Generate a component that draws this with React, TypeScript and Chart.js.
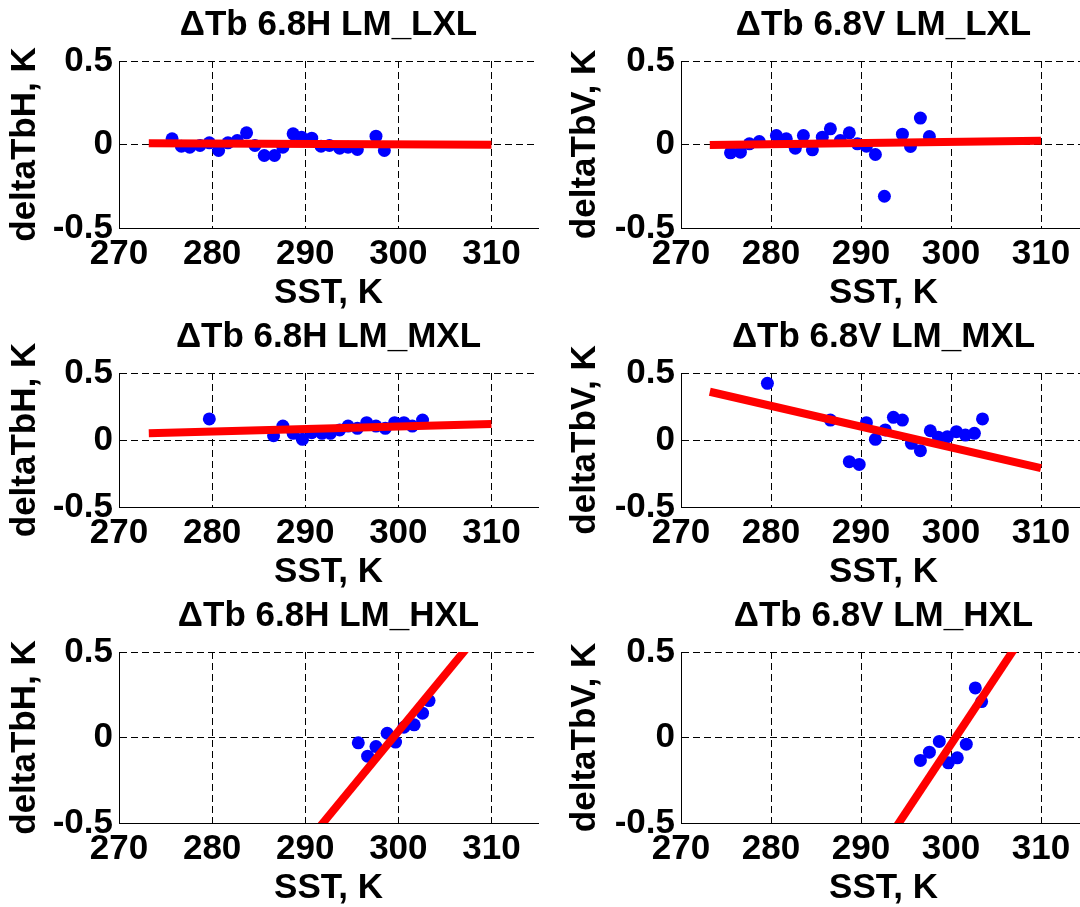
import React, { useEffect, useRef } from "react";
import { Chart, registerables } from "chart.js";

Chart.register(...registerables);

// ---------- axis definitions ----------
const X_MIN = 270;
const X_MAX = 315;
const Y_MIN = -0.5;
const Y_MAX = 0.5;
const X_TICKS = [270, 280, 290, 300, 310];
const X_TICK_LABELS = ["270", "280", "290", "300", "310"];
const Y_TICKS = [-0.5, 0, 0.5];
const Y_TICK_LABELS = ["-0.5", "0", "0.5"];
const X_LABEL = "SST, K";
const Y_LABEL_H = "deltaTbH, K";
const Y_LABEL_V = "deltaTbV, K";

// end points (SST) of the fitted lines
const FIT_SST = [273.2, 310];

// ---------- LM_LXL, 6.8H ----------
const LXL_H_SST = [275.7, 276.7, 277.6, 278.7, 279.7, 280.7, 281.7, 282.7, 283.7, 284.6, 285.6, 286.7, 287.6, 288.7, 289.6, 290.7, 291.7, 292.6, 293.7, 294.6, 295.6, 297.6, 298.5];
const LXL_H_DTB = [0.034, -0.01, -0.016, -0.006, 0.01, -0.036, 0.01, 0.024, 0.07, -0.006, -0.066, -0.066, -0.016, 0.064, 0.044, 0.038, -0.01, -0.006, -0.022, -0.016, -0.03, 0.05, -0.036];
const LXL_H_FIT = [0.008, -0.002];

// ---------- LM_LXL, 6.8V ----------
const LXL_V_SST = [275.5, 276.6, 277.6, 278.7, 280.6, 281.7, 282.7, 283.6, 284.6, 285.7, 286.6, 287.7, 288.7, 289.6, 290.6, 291.6, 292.6, 294.6, 295.5, 296.6, 297.6];
const LXL_V_DTB = [-0.05, -0.046, 0.004, 0.018, 0.054, 0.034, -0.022, 0.054, -0.032, 0.044, 0.094, 0.024, 0.07, 0.004, -0.01, -0.06, -0.31, 0.062, -0.012, 0.158, 0.048];
const LXL_V_FIT = [-0.003, 0.022];

// ---------- LM_MXL, 6.8H ----------
const MXL_H_SST = [279.7, 286.6, 287.6, 288.7, 289.7, 290.7, 291.8, 292.7, 293.7, 294.6, 295.6, 296.6, 297.6, 298.6, 299.6, 300.6, 301.5, 302.6];
const MXL_H_DTB = [0.157, 0.032, 0.104, 0.05, 0.005, 0.054, 0.05, 0.05, 0.075, 0.104, 0.087, 0.129, 0.104, 0.087, 0.129, 0.129, 0.104, 0.149];
const MXL_H_FIT = [0.05, 0.12];

// ---------- LM_MXL, 6.8V ----------
const MXL_V_SST = [279.6, 286.6, 288.7, 289.8, 290.6, 291.6, 292.7, 293.6, 294.6, 295.6, 296.6, 297.7, 298.6, 299.6, 300.6, 301.6, 302.6, 303.5];
const MXL_V_DTB = [0.423, 0.149, -0.162, -0.182, 0.129, 0.005, 0.075, 0.169, 0.149, -0.025, -0.08, 0.069, 0.02, 0.025, 0.062, 0.037, 0.05, 0.157];
const MXL_V_FIT = [0.36, -0.21];

// ---------- LM_HXL, 6.8H ----------
const HXL_H_SST = [295.7, 296.7, 297.6, 298.8, 299.7, 300.6, 301.7, 302.6, 303.3];
const HXL_H_DTB = [-0.031, -0.109, -0.053, 0.025, -0.027, 0.06, 0.074, 0.142, 0.216];
const HXL_H_FIT = [-1.738, 0.698];

// ---------- LM_HXL, 6.8V ----------
const HXL_V_SST = [296.6, 297.6, 298.7, 299.7, 300.7, 301.7, 302.7, 303.4];
const HXL_V_DTB = [-0.134, -0.086, -0.023, -0.148, -0.119, -0.039, 0.29, 0.21];
const HXL_V_FIT = [-2.168, 0.754];

const TITLES = [
  "\u0394Tb 6.8H LM_LXL",
  "\u0394Tb 6.8V LM_LXL",
  "\u0394Tb 6.8H LM_MXL",
  "\u0394Tb 6.8V LM_MXL",
  "\u0394Tb 6.8H LM_HXL",
  "\u0394Tb 6.8V LM_HXL",
];

type PanelData = { title: string; yLabel: string; sst: number[]; dtb: number[]; fit: number[] };

const PANELS: PanelData[] = [
  { title: TITLES[0], yLabel: Y_LABEL_H, sst: LXL_H_SST, dtb: LXL_H_DTB, fit: LXL_H_FIT },
  { title: TITLES[1], yLabel: Y_LABEL_V, sst: LXL_V_SST, dtb: LXL_V_DTB, fit: LXL_V_FIT },
  { title: TITLES[2], yLabel: Y_LABEL_H, sst: MXL_H_SST, dtb: MXL_H_DTB, fit: MXL_H_FIT },
  { title: TITLES[3], yLabel: Y_LABEL_V, sst: MXL_V_SST, dtb: MXL_V_DTB, fit: MXL_V_FIT },
  { title: TITLES[4], yLabel: Y_LABEL_H, sst: HXL_H_SST, dtb: HXL_H_DTB, fit: HXL_H_FIT },
  { title: TITLES[5], yLabel: Y_LABEL_V, sst: HXL_V_SST, dtb: HXL_V_DTB, fit: HXL_V_FIT },
];

// ---------- layout (pixels) ----------
const COLS = [
  { canvasLeft: 0, canvasW: 560, plotLeft: 119, plotRight: 538 },
  { canvasLeft: 560, canvasW: 540, plotLeft: 681, plotRight: 1086 },
];
const ROWS = [
  { plotTop: 61, plotBottom: 228 },
  { plotTop: 373, plotBottom: 507 },
  { plotTop: 652, plotBottom: 823 },
];
const FONT_FAMILY = '"Liberation Sans", Arial, Helvetica, sans-serif';
const FONT_SIZE = 35;
const LINE_H = FONT_SIZE * 1.2;
const TITLE_ABOVE = 61; // canvas top is this far above the plot top
const TITLE_GAP = 36; // title centre above plot top
const X_AREA = 90; // space under plot inside the canvas
const XLABEL_BELOW = 65; // x-axis title centre below plot bottom

type Geo = {
  left: number; top: number; w: number; h: number;
  padRight: number; yAxisW: number; xAxisH: number;
};

function geoFor(i: number): Geo {
  const c = COLS[i % 2];
  const r = ROWS[Math.floor(i / 2)];
  const top = r.plotTop - TITLE_ABOVE;
  const h = r.plotBottom - top + X_AREA;
  return {
    left: c.canvasLeft,
    top,
    w: c.canvasW,
    h,
    padRight: c.canvasLeft + c.canvasW - c.plotRight,
    yAxisW: c.plotLeft - c.canvasLeft,
    xAxisH: X_AREA,
  };
}

const boldFont = { family: FONT_FAMILY, size: FONT_SIZE, weight: "bold" as const, lineHeight: 1.2 };

function Panel({ panel, geo }: { panel: PanelData; geo: Geo }) {
  const ref = useRef<HTMLCanvasElement | null>(null);
  useEffect(() => {
    if (!ref.current) return;
    const chart = new Chart(ref.current, {
      type: "scatter",
      data: {
        datasets: [
          {
            type: "line",
            data: FIT_SST.map((x, k) => ({ x, y: panel.fit[k] })),
            borderColor: "#ff0000",
            backgroundColor: "#ff0000",
            borderWidth: 8,
            pointRadius: 0,
            fill: false,
            clip: 0,
            order: 0,
          } as any,
          {
            type: "scatter",
            data: panel.sst.map((x, k) => ({ x, y: panel.dtb[k] })),
            backgroundColor: "#0000ff",
            borderColor: "#0000ff",
            borderWidth: 0,
            pointRadius: 6.5,
            order: 1,
          } as any,
        ],
      },
      options: {
        responsive: false,
        animation: false,
        devicePixelRatio: 1,
        layout: { padding: { left: 0, top: 0, right: geo.padRight, bottom: 0 } },
        plugins: {
          legend: { display: false },
          tooltip: { enabled: false },
          title: {
            display: true,
            text: panel.title,
            fullSize: false,
            color: "#000",
            font: boldFont,
            padding: { top: TITLE_ABOVE - LINE_H - (TITLE_GAP - LINE_H / 2), bottom: TITLE_GAP - LINE_H / 2 },
          },
        },
        scales: {
          x: {
            type: "linear",
            position: "bottom",
            min: X_MIN,
            max: X_MAX,
            afterBuildTicks: (s: any) => {
              s.ticks = X_TICKS.map((v) => ({ value: v }));
            },
            afterFit: (s: any) => {
              s.height = geo.xAxisH;
            },
            ticks: {
              callback: (_v: any, k: number) => X_TICK_LABELS[k],
              color: "#000",
              font: boldFont,
              padding: 5,
              autoSkip: false,
              maxRotation: 0,
              minRotation: 0,
            },
            grid: { color: "#000", lineWidth: 1, drawTicks: false, borderDash: [7, 4] } as any,
            border: { display: true, color: "#000", width: 1, dash: [7, 4] },
            title: {
              display: true,
              text: X_LABEL,
              color: "#000",
              font: boldFont,
              padding: { top: 0, bottom: X_AREA - XLABEL_BELOW - LINE_H / 2 },
            },
          },
          y: {
            type: "linear",
            position: "left",
            min: Y_MIN,
            max: Y_MAX,
            afterBuildTicks: (s: any) => {
              s.ticks = Y_TICKS.map((v) => ({ value: v }));
            },
            afterFit: (s: any) => {
              s.width = geo.yAxisW;
            },
            ticks: {
              callback: (_v: any, k: number) => Y_TICK_LABELS[k],
              color: "#000",
              font: boldFont,
              padding: 6,
              autoSkip: false,
            },
            grid: { color: "#000", lineWidth: 1, drawTicks: false, borderDash: [7, 4] } as any,
            border: { display: true, color: "#000", width: 1, dash: [7, 4] },
            title: {
              display: true,
              text: panel.yLabel,
              color: "#000",
              font: boldFont,
              padding: { top: 25 - LINE_H / 2, bottom: 0 },
            },
          },
        },
      },
    } as any);
    return () => chart.destroy();
  }, [panel, geo]);
  return (
    <canvas
      ref={ref}
      width={geo.w}
      height={geo.h}
      style={{ position: "absolute", left: geo.left, top: geo.top, width: geo.w, height: geo.h }}
    />
  );
}

const GEOS = PANELS.map((_, i) => geoFor(i));

export default function App() {
  return (
    <div
      style={{
        position: "fixed",
        left: 0,
        top: 0,
        width: 1080,
        height: 907,
        overflow: "hidden",
        background: "#ffffff",
      }}
    >
      {PANELS.map((p, i) => (
        <Panel key={i} panel={p} geo={GEOS[i]} />
      ))}
    </div>
  );
}
